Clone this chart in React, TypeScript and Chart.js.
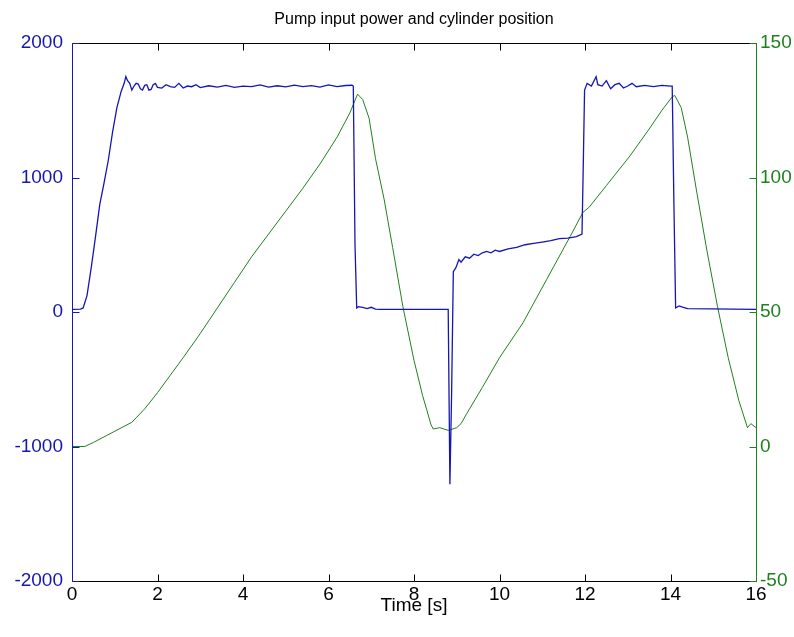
import React, { useEffect, useRef } from "react";
import { Chart, registerables } from "chart.js";

Chart.register(...registerables);

const TITLE = "Pump input power and cylinder position";
const X_LABEL = "Time [s]";

// Pump input power (left axis)
const powerTime = [
  0.0, 0.2, 0.26, 0.35, 0.45, 0.55, 0.65, 0.75, 0.85, 0.95, 1.05, 1.15, 1.22, 1.26, 1.3, 1.35, 1.4, 1.45, 1.5, 1.55,
  1.6, 1.65, 1.7, 1.75, 1.8, 1.85, 1.9, 1.95, 2.0, 2.1, 2.2, 2.3, 2.4, 2.5, 2.6, 2.7, 2.8, 2.9, 3.0, 3.2,
  3.4, 3.6, 3.8, 4.0, 4.2, 4.4, 4.6, 4.8, 5.0, 5.2, 5.4, 5.6, 5.8, 6.0, 6.2, 6.4, 6.55, 6.58, 6.62, 6.66,
  6.7, 6.8, 6.9, 7.0, 7.1, 7.2, 8.8, 8.84, 8.88, 8.92, 8.98, 9.05, 9.1, 9.2, 9.3, 9.4, 9.5, 9.6, 9.7, 9.8,
  9.9, 10.0, 10.2, 10.4, 10.6, 10.8, 11.0, 11.2, 11.4, 11.6, 11.8, 11.93, 11.96, 11.99, 12.05, 12.15, 12.26, 12.3, 12.4, 12.5,
  12.6, 12.7, 12.8, 12.9, 13.0, 13.1, 13.2, 13.4, 13.6, 13.8, 14.0, 14.04, 14.08, 14.12, 14.2, 14.3, 14.4, 16.0,
];
const powerValue = [
  20, 22, 30, 120, 330, 560, 800, 960, 1130, 1340, 1520, 1640, 1700, 1750, 1720, 1700, 1650, 1680, 1700, 1695,
  1660, 1650, 1685, 1690, 1650, 1655, 1690, 1700, 1670, 1665, 1690, 1675, 1670, 1700, 1665, 1680, 1675, 1690, 1668, 1682,
  1672, 1685, 1670, 1680, 1676, 1688, 1672, 1682, 1674, 1686, 1675, 1683, 1672, 1688, 1676, 1684, 1686, 1680, 500, 30,
  40, 35, 25, 35, 22, 20, 20, -1280, -600, 300, 330, 390, 370, 410, 400, 430, 420, 440, 450, 440,
  460, 450, 470, 480, 500, 510, 520, 530, 545, 550, 560, 580, 1100, 1650, 1700, 1680, 1750, 1690, 1680, 1720,
  1660, 1690, 1700, 1665, 1680, 1700, 1675, 1685, 1675, 1685, 1680, 1680, 800, 30, 45, 35, 25, 20,
];

// Cylinder position (right axis)
const posTime = [
  0.0, 0.3, 0.5, 0.8, 1.1, 1.4, 1.7, 2.0, 2.3, 2.6, 3.0, 3.4, 3.8, 4.2, 4.6, 5.0, 5.4, 5.8, 6.2, 6.5,
  6.68, 6.8, 6.95, 7.1, 7.3, 7.5, 7.74, 8.0, 8.2, 8.4, 8.45, 8.6, 8.8, 9.0, 9.1, 9.24, 9.6, 10.0, 10.55, 11.1,
  11.65, 11.95, 12.1, 12.5, 13.05, 13.5, 13.8, 14.04, 14.1, 14.25, 14.4, 14.62, 14.85, 15.1, 15.35, 15.6, 15.8, 15.88, 16.0,
];
const posValue = [
  0, 0, 1.5, 4, 6.5, 9, 14, 20, 26.5, 33, 42, 51.5, 61, 70.5, 79, 87.5, 96, 105, 115, 124,
  131, 129, 122, 107, 92, 74, 52, 32, 19, 8, 6.5, 7, 6, 7, 8.5, 12.4, 22, 33, 46, 62,
  78, 87, 89, 97, 108, 118, 125, 130, 130.5, 126, 115, 94, 73, 52, 33, 17, 7, 8.5, 7,
];

const X_TICKS = [0, 2, 4, 6, 8, 10, 12, 14, 16];
const LEFT_TICKS = [-2000, -1000, 0, 1000, 2000];
const RIGHT_TICKS = [-50, 0, 50, 100, 150];

const BLUE = "#1616b0";
const GREEN = "#1f801f";
const FONT = "'Liberation Sans', Arial, sans-serif";

const plain = (v: any) => String(v);

const framePlugin = {
  id: "frame",
  afterDraw(chart: any) {
    const { ctx, chartArea } = chart;
    const { left, right, top, bottom } = chartArea;
    const x = chart.scales.x;
    const y = chart.scales.y;
    const y1 = chart.scales.y1;
    const L = Math.round(left) + 0.5;
    const R = Math.round(right) + 0.5;
    const T = Math.round(top) + 0.5;
    const B = Math.round(bottom) + 0.5;
    const tl = 7;
    ctx.save();
    ctx.lineWidth = 1;
    ctx.strokeStyle = "#000";
    ctx.beginPath();
    ctx.moveTo(L, T);
    ctx.lineTo(R, T);
    ctx.moveTo(L, B);
    ctx.lineTo(R, B);
    x.ticks.forEach((t: any) => {
      const px = Math.round(x.getPixelForValue(t.value)) + 0.5;
      ctx.moveTo(px, B);
      ctx.lineTo(px, B - tl);
      ctx.moveTo(px, T);
      ctx.lineTo(px, T + tl);
    });
    ctx.stroke();
    ctx.strokeStyle = BLUE;
    ctx.beginPath();
    ctx.moveTo(L, T);
    ctx.lineTo(L, B);
    y.ticks.forEach((t: any) => {
      const py = Math.round(y.getPixelForValue(t.value)) + 0.5;
      ctx.moveTo(L, py);
      ctx.lineTo(L + tl, py);
    });
    ctx.stroke();
    ctx.strokeStyle = GREEN;
    ctx.beginPath();
    ctx.moveTo(R, T);
    ctx.lineTo(R, B);
    y1.ticks.forEach((t: any) => {
      const py = Math.round(y1.getPixelForValue(t.value)) + 0.5;
      ctx.moveTo(R, py);
      ctx.lineTo(R - tl, py);
    });
    ctx.stroke();
    ctx.fillStyle = "#000";
    ctx.textAlign = "center";
    ctx.textBaseline = "alphabetic";
    ctx.font = `16px ${FONT}`;
    ctx.fillText(TITLE, (left + right) / 2, 24);
    ctx.font = `19px ${FONT}`;
    ctx.textBaseline = "middle";
    ctx.fillText(X_LABEL, (left + right) / 2, 606);
    ctx.restore();
  },
};

export default function App() {
  const ref = useRef<HTMLCanvasElement>(null);
  useEffect(() => {
    if (!ref.current) return;
    const chart = new Chart(ref.current, {
      type: "line",
      data: {
        datasets: [
          {
            label: "Pump input power",
            data: powerTime.map((t, i) => ({ x: t, y: powerValue[i] })),
            borderColor: BLUE,
            borderWidth: 1.3,
            pointRadius: 0,
            tension: 0,
            yAxisID: "y",
          },
          {
            label: "Cylinder position",
            data: posTime.map((t, i) => ({ x: t, y: posValue[i] })),
            borderColor: GREEN,
            borderWidth: 1,
            pointRadius: 0,
            tension: 0,
            yAxisID: "y1",
          },
        ],
      },
      options: {
        animation: false,
        responsive: false,
        devicePixelRatio: 1,
        layout: { padding: { top: 43, left: 0, right: 0, bottom: 0 } },
        plugins: {
          legend: { display: false },
          title: { display: false },
          tooltip: { enabled: false },
        },
        scales: {
          x: {
            type: "linear",
            min: 0,
            max: 16,
            afterBuildTicks: (s: any) => {
              s.ticks = X_TICKS.map((v) => ({ value: v }));
            },
            afterFit: (s: any) => {
              s.height = 56;
            },
            grid: { display: false, drawTicks: false },
            border: { display: false },
            ticks: { color: "#000", font: { family: FONT, size: 19 }, padding: 2, maxRotation: 0, callback: plain },
          },
          y: {
            type: "linear",
            position: "left",
            min: -2000,
            max: 2000,
            afterBuildTicks: (s: any) => {
              s.ticks = LEFT_TICKS.map((v) => ({ value: v }));
            },
            afterFit: (s: any) => {
              s.width = 72;
            },
            grid: { display: false, drawTicks: false },
            border: { display: false },
            ticks: { color: BLUE, font: { family: FONT, size: 19 }, padding: 9, callback: plain },
          },
          y1: {
            type: "linear",
            position: "right",
            min: -50,
            max: 150,
            afterBuildTicks: (s: any) => {
              s.ticks = RIGHT_TICKS.map((v) => ({ value: v }));
            },
            afterFit: (s: any) => {
              s.width = 38;
            },
            grid: { display: false, drawTicks: false },
            border: { display: false },
            ticks: { color: GREEN, font: { family: FONT, size: 19 }, padding: 4, callback: plain },
          },
        },
      },
      plugins: [framePlugin],
    });
    return () => chart.destroy();
  }, []);
  return (
    <div style={{ position: "absolute", left: 0, top: 0, width: 794, height: 637, background: "#fff" }}>
      <canvas ref={ref} width={794} height={637} style={{ display: "block" }} />
    </div>
  );
}
